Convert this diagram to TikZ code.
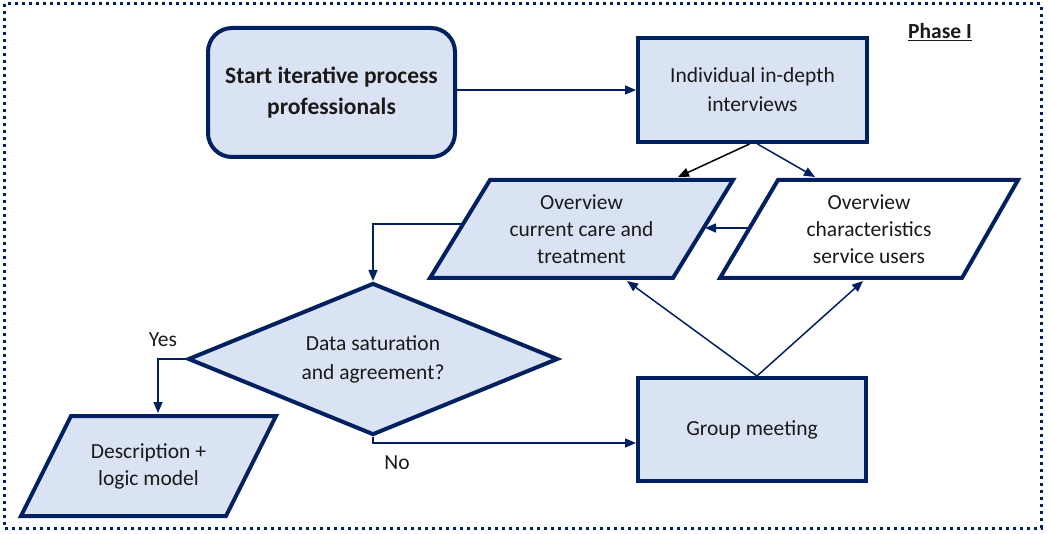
\documentclass[tikz,border=0pt]{standalone}
\usepackage{fontspec}
\setmainfont{Carlito}
\usetikzlibrary{arrows.meta,shapes.geometric}
\definecolor{navy}{HTML}{002060}
\definecolor{boxfill}{HTML}{DAE3F3}
\definecolor{txt}{HTML}{1A1A1A}
\begin{document}
\begin{tikzpicture}[x=1pt,y=-1pt,
  box/.style={draw=navy, line width=4pt, fill=boxfill, text=txt, align=center,
    font=\fontsize{21.5}{29}\selectfont},
  pgram/.style={draw=navy, line width=4pt, line join=miter},
  ptext/.style={text=txt, align=center, font=\fontsize{21.5}{27}\selectfont},
  lbl/.style={text=txt, font=\fontsize{21.5}{27}\selectfont},
  conn/.style={draw=navy, line width=1.5pt, -{Triangle[length=11pt,width=9pt]}}]
\useasboundingbox (0,0) rectangle (1051,534);
% outer dotted frame
\draw[navy, line width=3pt, dash pattern=on 3pt off 4pt] (4,4) rectangle (1041,528);
\node[lbl, font=\fontsize{21.5}{27}\selectfont\bfseries] (phase) at (940,32) {\underline{Phase I}};

% boxes
\node[box, rounded corners=24pt, minimum width=247pt, minimum height=129pt,
  font=\fontsize{23.5}{31}\selectfont\bfseries] (start) at (331.5,92.5) {Start iterative process\\professionals};
\node[box, minimum width=229pt, minimum height=104pt] (intv) at (752.5,90) {Individual in-depth\\interviews};
\node[box, minimum width=228pt, minimum height=103pt] (group) at (752,429.5) {Group meeting};
\node[box, shape=diamond, aspect=2.43, minimum width=370pt, minimum height=152pt, inner sep=0pt] (dec) at (373,359) {Data saturation\\and agreement?};

% parallelograms
\draw[pgram, fill=boxfill] (490,180) -- (733,180) -- (673,278) -- (430,278) -- cycle;
\node[ptext] (cc) at (581.5,229) {Overview\\current care and\\treatment};
\draw[pgram, fill=white] (778,180) -- (1018,180) -- (962,278) -- (720,278) -- cycle;
\node[ptext] (ch) at (869,229) {Overview\\characteristics\\service users};
\draw[pgram, fill=boxfill] (71,416) -- (276,416) -- (226,516) -- (21,516) -- cycle;
\node[ptext] (desc) at (148.5,466) {Description +\\logic model};

% connector end points on the parallelogram borders
\coordinate (ccT) at (678,177);
\coordinate (chT) at (815,177);
\coordinate (chL) at (750,228);
\coordinate (ccR) at (705,228);
\coordinate (ccL) at (462,224);
\coordinate (dsT) at (158,413);
\coordinate (ccB) at (627,281);
\coordinate (chB) at (863,281);

% connectors
\draw[conn] (start.east |- intv.west) -- (intv.west);
\draw[conn, draw=black, fill=black] ([xshift=-3pt]intv.south) -- (ccT);
\draw[conn] ([xshift=5pt]intv.south) -- (chT);
\draw[conn] (chL) -- (ccR);
\draw[conn] (ccL) -| (dec.north);
\draw[conn] (dec.west) -| (dsT);
\draw[conn] (dec.south) |- ([yshift=-13.5pt]group.west);
\draw[conn] ([xshift=5pt]group.north) -- (ccB);
\draw[conn] ([xshift=5pt]group.north) -- (chB);

\node[lbl] (yes) at (163,340) {Yes};
\node[lbl] (no) at (397,463) {No};
\end{tikzpicture}
\end{document}
